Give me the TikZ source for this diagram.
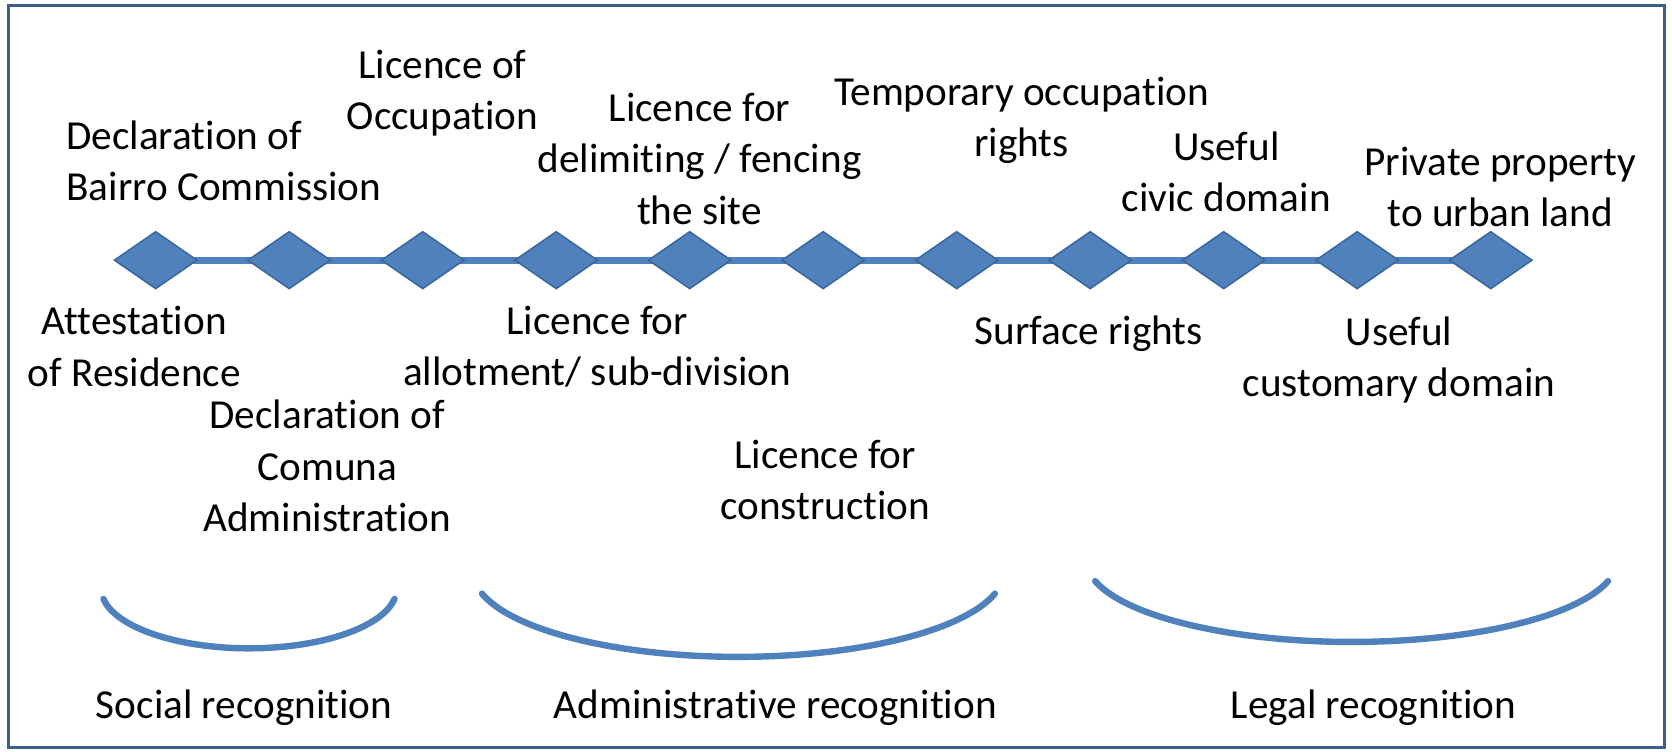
\documentclass[tikz,border=0pt]{standalone}
\usepackage{fontspec}
\setmainfont{Carlito}[Ligatures=CommonOff]
\usetikzlibrary{shapes.geometric,backgrounds}
\definecolor{stepblue}{HTML}{4F81BD}
\definecolor{stepedge}{HTML}{3A6699}
\definecolor{framecol}{HTML}{3E5F8C}
\tikzset{
  milestone/.style={diamond, draw=stepedge, line width=0.8pt, fill=stepblue, minimum width=1.56cm, minimum height=1.08cm, inner sep=0pt},
  doc/.style={align=center, inner sep=0pt, font=\fontsize{22}{27.3}\selectfont},
  timeline/.style={stepblue, line width=0.13cm},
  stagearc/.style={stepblue, line width=0.12cm, line cap=round}
}
\begin{document}
\begin{tikzpicture}[x=0.02cm, y=0.02cm]
\pgfmathsetmacro{\W}{1568}
\pgfmathsetmacro{\H}{705}
\pgfmathsetmacro{\S}{125.2}
\useasboundingbox (0,0) rectangle (\W,\H);
\draw[framecol, line width=0.06cm] (8,4) rectangle (1561,700);
\foreach \i in {1,...,11} \node[milestone] (d\i) at ({146+(\i-1)*\S},461) {};
\begin{scope}[on background layer]
\draw[timeline] (d1.center) -- (d11.center);
\end{scope}
\node[doc, anchor=west, align=left] (bairro) at (62,554.5) {Declaration of\\Bairro Commission};
\node[doc] (occupation) at (415,618) {Licence of\\Occupation};
\node[doc] (fencing) at (656,556) {Licence for\\delimiting / fencing\\the site};
\node[doc] (temporary) at (958,592.5) {Temporary occupation\\rights};
\node[doc] (civic) at (1150,544) {Useful\\civic domain};
\node[doc] (private) at (1407,530) {Private property\\to urban land};
\node[doc] (residence) at (126,380) {Attestation\\of Residence};
\node[doc] (comuna) at (307,268) {Declaration of\\Comuna\\Administration};
\node[doc] (allotment) at (560,380) {Licence for\\allotment/ sub-division};
\node[doc] (construction) at (774,254.5) {Licence for\\construction};
\node[doc] (surface) at (1021,392) {Surface rights};
\node[doc] (customary) at (1312,367.5) {Useful\\customary domain};
\node[doc] (social) at (229,41) {Social recognition};
\node[doc] (admin) at (727,41) {Administrative recognition};
\node[doc] (legal) at (1288,41) {Legal recognition};
\coordinate (socialarc) at (233.5,153);
\coordinate (adminarc) at (692.5,169);
\coordinate (legalarc) at (1267.5,180);
\draw[stagearc] (socialarc) ++(190:138.6 and 56) arc[start angle=190, end angle=350, x radius=138.6, y radius=56];
\draw[stagearc] (adminarc) ++(195:249 and 80) arc[start angle=195, end angle=345, x radius=249, y radius=80];
\draw[stagearc] (legalarc) ++(195:249 and 77) arc[start angle=195, end angle=345, x radius=249, y radius=77];
\end{tikzpicture}
\end{document}
